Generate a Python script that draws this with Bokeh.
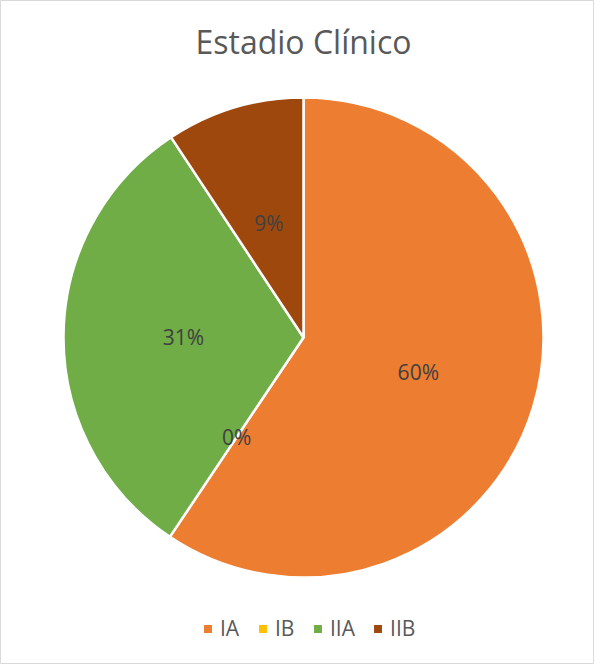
import math
from bokeh.plotting import figure
from bokeh.models import ColumnDataSource, Range1d
from bokeh.core.properties import value
from bokeh.embed import file_html
from bokeh.resources import INLINE

# ---- data ----
categories = ["IA", "IB", "IIA", "IIB"]
shares = [59.4, 0.0, 31.3, 9.3]          # percent of the whole (slice sizes)
labels = ["60%", "0%", "31%", "9%"]      # data labels as printed
colors = ["#ED7D31", "#FFC000", "#70AD47", "#9E480E"]
chart_title = "Estadio Clínico"

# ---- layout ----
W, H = 594, 664
CX, CY, R = 303, H - 337, 240
FONT = "Open Sans"

total = sum(shares)
starts, ends, lx, ly, radii = [], [], [], [], []
acc = 0.0
for v in shares:
    a0 = math.pi / 2 - 2 * math.pi * acc / total
    acc += v
    a1 = math.pi / 2 - 2 * math.pi * acc / total
    starts.append(a0)
    ends.append(a1)
    radii.append(R if v > 0 else 0)      # an empty slice draws nothing
    mid = (a0 + a1) / 2
    lx.append(CX + 0.5 * R * math.cos(mid))
    ly.append(CY + 0.5 * R * math.sin(mid))

src = ColumnDataSource(dict(cat=categories, start=starts, end=ends, color=colors,
                            r=radii, lx=lx, ly=ly, label=labels))

p = figure(width=W, height=H, output_backend="svg", toolbar_location=None,
           x_range=Range1d(0, W), y_range=Range1d(0, H), min_border=0,
           x_axis_location=None, y_axis_location=None)
p.grid.visible = False
p.outline_line_color = "#d9d9d9"
p.outline_line_width = 1
p.background_fill_color = "white"
p.border_fill_color = "white"

p.wedge(x=CX, y=CY, radius="r", start_angle="start", end_angle="end",
        direction="clock", fill_color="color", line_color="white",
        line_width=2.5, source=src, legend_field="cat")

p.text(x="lx", y="ly", text="label", source=src, text_align="center",
       text_baseline="middle", text_font=value(FONT), text_font_size="21px",
       text_color="#404040")

tsrc = ColumnDataSource(dict(x=[CX], y=[H - 41], t=[chart_title]))
p.text(x="x", y="y", text="t", source=tsrc, text_align="center",
       text_baseline="middle", text_font=value(FONT), text_font_size="32px",
       text_color="#595959")

lg = p.legend[0]
lg.orientation = "horizontal"
lg.location = (201, 22)
lg.padding = 0
lg.margin = 0
lg.border_line_color = None
lg.background_fill_alpha = 0
lg.glyph_width = 13
lg.glyph_height = 13
lg.label_standoff = 6
lg.spacing = 16
lg.label_text_font = FONT
lg.label_text_font_size = "21px"
lg.label_text_color = "#595959"

open("out.html", "w").write(file_html(p, INLINE))
